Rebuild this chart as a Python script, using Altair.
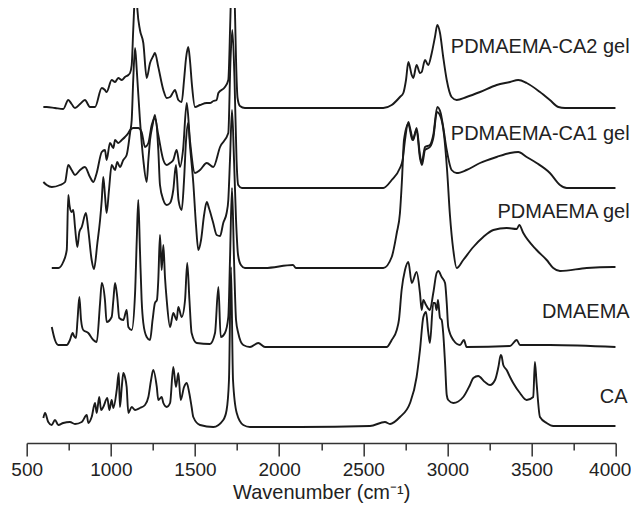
import altair as alt
import pandas as pd

# ---------------- data (wavenumber in cm^-1, absorbance in offset arbitrary units) -------------
ca2_wn = [599, 619, 668, 717, 747, 767, 787, 817, 846, 876, 906, 946, 965, 975, 1005, 1025, 1044, 1065,
          1084, 1104, 1114, 1124, 1133, 1144, 1149, 1158, 1173, 1193, 1213, 1233, 1252, 1262, 1282, 1312,
          1332, 1352, 1371, 1381, 1401, 1421, 1435, 1447, 1460, 1470, 1482, 1500, 1530, 1570, 1589, 1609,
          1629, 1639, 1678, 1698, 1710, 1723, 1738, 1744, 1753, 1767, 1797, 2124, 2421, 2619, 2669, 2718,
          2738, 2754, 2768, 2788, 2797, 2817, 2837, 2847, 2867, 2886, 2907, 2926, 2940, 2956, 2975, 2996,
          3025, 3055, 3114, 3194, 3293, 3372, 3421, 3471, 3550, 3609, 3659, 3699, 4000]
ca2_ab = [336, 336, 335, 334, 343, 339, 335, 339, 343, 336, 336, 355, 353, 351, 363, 361, 365, 363,
          366, 368, 370, 378, 413, 453, 463, 433, 413, 400, 365, 380, 387, 390, 376, 353,
          345, 346, 351, 353, 343, 341, 363, 385, 396, 383, 358, 336, 338, 340, 340, 342,
          343, 350, 356, 363, 423, 503, 428, 383, 345, 337, 335, 335, 335, 335, 338, 346,
          350, 363, 381, 368, 365, 378, 370, 371, 383, 378, 390, 406, 418, 410, 386, 363,
          346, 343, 346, 351, 358, 361, 363, 360, 351, 343, 336, 335, 335]

ca1_wn = [599, 619, 649, 698, 728, 747, 767, 787, 817, 846, 876, 896, 916, 946, 965, 975, 995, 1015,
          1025, 1044, 1065, 1084, 1104, 1114, 1133, 1163, 1183, 1203, 1223, 1243, 1262, 1282, 1312, 1332,
          1352, 1371, 1391, 1411, 1429, 1451, 1470, 1500, 1530, 1570, 1609, 1649, 1698, 1711, 1722, 1735,
          1747, 1757, 1779, 2124, 2619, 2669, 2718, 2734, 2748, 2768, 2778, 2797, 2817, 2837, 2847, 2867,
          2896, 2916, 2940, 2960, 2975, 2996, 3025, 3055, 3114, 3194, 3293, 3372, 3421, 3471, 3530, 3609,
          3669, 3709, 4000]
ca1_ab = [261, 258, 256, 258, 261, 278, 273, 268, 273, 276, 266, 261, 270, 291, 293, 283, 300, 295,
          303, 300, 303, 306, 310, 313, 315, 315, 311, 296, 300, 318, 325, 308, 283, 278,
          280, 283, 293, 276, 293, 340, 303, 270, 273, 280, 276, 296, 310, 383, 413, 363,
          283, 258, 255, 255, 255, 263, 275, 283, 303, 321, 315, 303, 315, 288, 280, 296,
          298, 308, 336, 330, 316, 293, 273, 270, 273, 280, 286, 290, 291, 286, 280, 270,
          258, 255, 255]

pgel_wn = [649, 688, 717, 738, 747, 754, 767, 777, 787, 801, 813, 827, 852, 866, 886, 900, 920, 936,
           946, 955, 965, 975, 989, 1005, 1025, 1038, 1054, 1074, 1094, 1114, 1124, 1133, 1144, 1154,
           1173, 1193, 1213, 1223, 1233, 1248, 1262, 1282, 1292, 1312, 1332, 1352, 1371, 1387, 1402,
           1421, 1435, 1447, 1460, 1470, 1490, 1506, 1520, 1536, 1554, 1570, 1583, 1607, 1629, 1649,
           1668, 1688, 1698, 1708, 1720, 1732, 1744, 1756, 1773, 1797, 1916, 2082, 2100, 2619, 2669,
           2699, 2718, 2730, 2742, 2768, 2792, 2817, 2837, 2849, 2867, 2896, 2916, 2938, 2962, 2980,
           2998, 3015, 3035, 3055, 3094, 3154, 3213, 3273, 3352, 3412, 3427, 3451, 3530, 3590, 3629,
           3669, 3828, 3986, 4000]
pgel_ab = [175, 175, 181, 193, 248, 238, 231, 233, 216, 196, 211, 216, 230, 213, 183, 174, 200, 223,
           243, 266, 248, 230, 253, 278, 273, 281, 276, 283, 288, 310, 323, 363, 395, 373,
           323, 283, 261, 283, 303, 318, 328, 293, 258, 243, 238, 240, 253, 278, 243,
           233, 263, 303, 320, 298, 260, 218, 193, 203, 228, 241, 235, 221, 208, 207,
           220, 230, 243, 283, 333, 283, 223, 188, 178, 175, 175, 178, 175, 175, 186,
           210, 230, 263, 303, 319, 303, 313, 285, 278, 293, 296, 305, 331, 325, 308,
           273, 228, 193, 175, 183, 196, 206, 213, 215, 214, 218, 210, 193, 183, 175,
           172, 175, 176, 176]

dm_wn = [649, 668, 688, 738, 757, 773, 781, 793, 802, 813, 823, 836, 866, 896, 916, 936, 946, 965,
         975, 1005, 1015, 1025, 1038, 1050, 1074, 1094, 1104, 1124, 1144, 1154, 1163, 1173, 1183, 1193,
         1213, 1233, 1248, 1262, 1274, 1282, 1292, 1302, 1312, 1322, 1332, 1352, 1371, 1391, 1401,
         1421, 1441, 1454, 1467, 1480, 1510, 1589, 1619, 1639, 1653, 1678, 1698, 1708, 1720, 1732,
         1744, 1757, 1787, 1827, 1876, 1916, 2619, 2639, 2669, 2699, 2712, 2728, 2748, 2768, 2788,
         2817, 2837, 2847, 2857, 2873, 2896, 2916, 2936, 2946, 2966, 2986, 2996, 3005, 3035, 3075,
         3098, 3114, 3372, 3412, 3431, 3609, 4000]
dm_ab = [116, 103, 98, 98, 103, 110, 107, 105, 123, 146, 123, 113, 110, 103, 101, 140, 160, 143,
         121, 126, 143, 160, 146, 125, 123, 133, 116, 113, 150, 203, 243, 193, 143, 120,
         106, 103, 123, 140, 143, 163, 208, 173, 198, 165, 143, 116, 130, 123, 136,
         126, 143, 180, 143, 110, 100, 99, 110, 156, 106, 110, 126, 183, 255, 183,
         123, 110, 98, 96, 100, 96, 96, 96, 103, 113, 123, 153, 173, 181, 160,
         171, 150, 133, 143, 138, 133, 150, 170, 172, 166, 160, 140, 116, 103, 98,
         103, 96, 97, 103, 98, 98, 96]

ca_wn = [599, 609, 628, 649, 668, 688, 717, 757, 787, 827, 857, 866, 886, 906, 916, 931, 942, 955,
         979, 991, 1005, 1015, 1035, 1047, 1054, 1065, 1074, 1084, 1094, 1104, 1124, 1144, 1173, 1203,
         1223, 1239, 1252, 1273, 1282, 1302, 1312, 1332, 1352, 1371, 1387, 1401, 1415, 1435, 1451,
         1466, 1480, 1490, 1530, 1609, 1668, 1688, 1702, 1714, 1726, 1748, 1787, 1827, 2124, 2540,
         2629, 2659, 2718, 2778, 2817, 2837, 2857, 2873, 2886, 2896, 2916, 2926, 2936, 2944, 2956,
         2966, 2975, 2986, 2996, 3005, 3035, 3094, 3134, 3154, 3183, 3223, 3253, 3283, 3303, 3317,
         3322, 3332, 3352, 3372, 3391, 3431, 3471, 3510, 3520, 3530, 3550, 3590, 3629, 4000]
ca_ab = [25, 30, 21, 18, 23, 18, 20, 21, 19, 21, 28, 20, 26, 40, 30, 46, 33, 36,
         45, 33, 43, 35, 53, 70, 36, 56, 70, 66, 56, 30, 36, 33, 35, 38,
         46, 63, 73, 56, 43, 46, 40, 36, 40, 76, 56, 70, 43, 56, 60,
         50, 36, 26, 18, 16, 23, 33, 63, 176, 63, 30, 18, 16, 16, 17,
         21, 19, 26, 40, 66, 93, 126, 131, 111, 100, 140, 140, 133, 143, 125,
         123, 110, 80, 48, 43, 40, 46, 58, 65, 67, 61, 58, 63, 76, 88,
         87, 78, 73, 66, 60, 50, 43, 46, 81, 60, 26, 20, 17, 17]

series_names = ["PDMAEMA-CA2 gel", "PDMAEMA-CA1 gel", "PDMAEMA gel", "DMAEMA", "CA"]
series_wn = [ca2_wn, ca1_wn, pgel_wn, dm_wn, ca_wn]
series_ab = [ca2_ab, ca1_ab, pgel_ab, dm_ab, ca_ab]

label_text = ["PDMAEMA-CA2 gel", "PDMAEMA-CA1 gel", "PDMAEMA gel", "DMAEMA", "CA"]
label_wn = [4083, 4083, 4083, 4083, 4070]
label_ab = [396, 309, 231, 131, 46]

tick_values = [500, 750, 1000, 1250, 1500, 1750, 2000, 2250, 2500, 2750, 3000, 3250, 3500, 3750, 4000]

# ---------------- build tables ----------------
rows = []
for name, wns, abs_ in zip(series_names, series_wn, series_ab):
    for w, a in zip(wns, abs_):
        rows.append({"series": name, "wavenumber": w, "absorbance": a})
df = pd.DataFrame(rows)
labels_df = pd.DataFrame({"text": label_text, "wavenumber": label_wn, "absorbance": label_ab})

FONT = "Liberation Sans"
xscale = alt.Scale(domain=[500, 4000], nice=False, zero=False)
yscale = alt.Scale(domain=[0, 435], nice=False, zero=False)

x_axis = alt.Axis(
    values=tick_values,
    format="d",
    labelExpr="datum.value % 500 === 0 ? datum.label : ''",
    tickSize={"condition": {"test": "datum.value % 500 === 0", "value": 13}, "value": 7},
    labelOffset={"condition": {"test": "datum.value === 4000", "value": -6}, "value": 0},
    title="Wavenumber (cm⁻¹)",
    grid=False,
    labelOverlap=False,
    labelFlush=False,
    labelFont=FONT,
    labelFontSize=19,
    labelColor="#222222",
    labelPadding=5,
    titleFont=FONT,
    titleFontSize=20,
    titleFontWeight="normal",
    titleColor="#222222",
    titleBaseline="alphabetic",
    titleY=55.6,
    domainColor="#333333",
    domainWidth=1.5,
    tickColor="#333333",
    tickWidth=1.5,
)

lines = alt.Chart(df).mark_line(
    clip=True, color="#1a1a1a", strokeWidth=1.9, interpolate="monotone"
).encode(
    x=alt.X("wavenumber:Q", scale=xscale, axis=x_axis),
    y=alt.Y("absorbance:Q", scale=yscale, axis=None),
    detail="series:N",
)

texts = alt.Chart(labels_df).mark_text(
    align="right", baseline="middle", font=FONT, fontSize=20, color="#222222"
).encode(
    x=alt.X("wavenumber:Q", scale=xscale),
    y=alt.Y("absorbance:Q", scale=yscale),
    text="text:N",
)

chart = alt.layer(lines, texts).properties(
    width=589, height=435,
    autosize=alt.AutoSizeParams(type="none"),
    padding={"left": 18.7, "top": 0, "right": 15, "bottom": 60},
    background="white",
).configure_view(stroke=None)

chart.save("out.html", embed_options={"renderer": "svg", "actions": False})
